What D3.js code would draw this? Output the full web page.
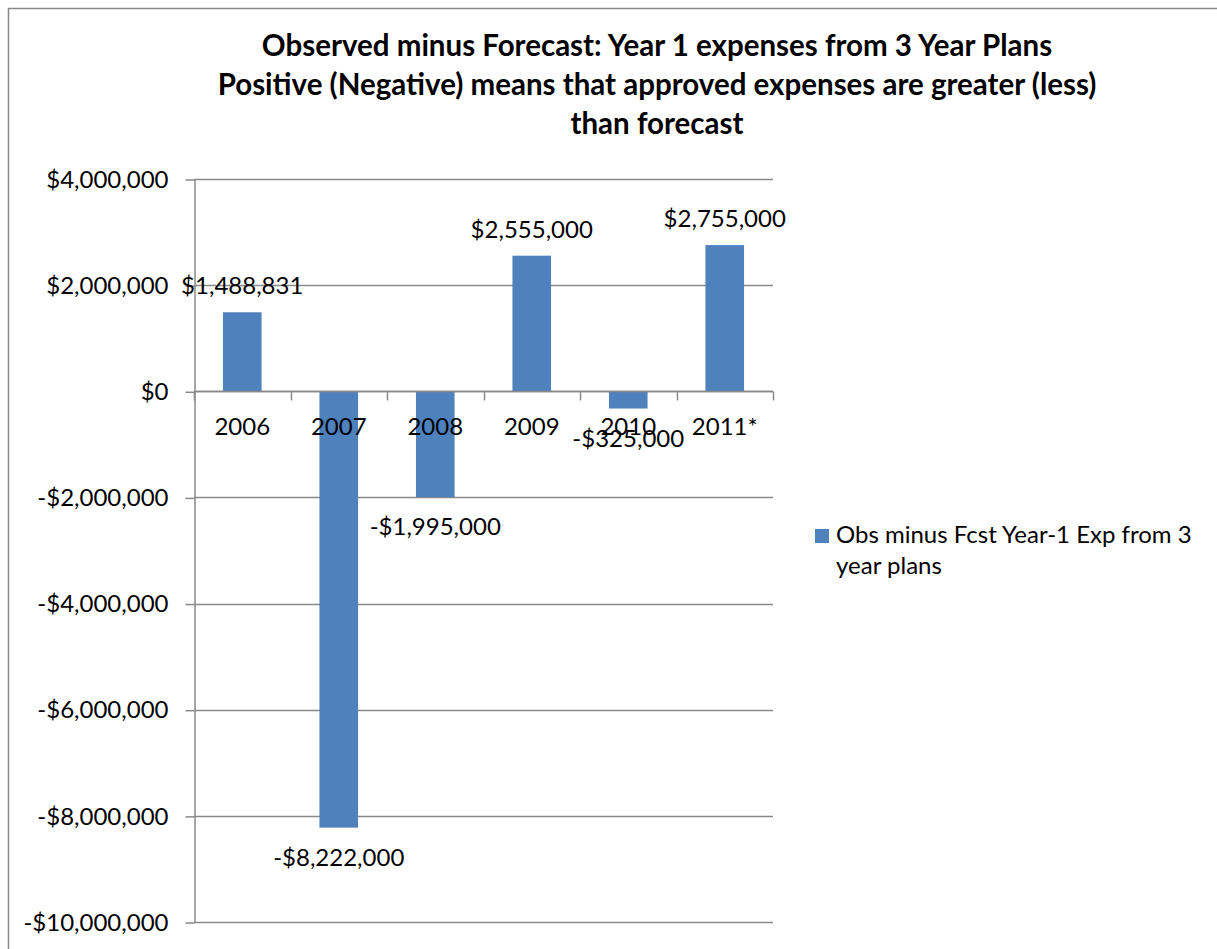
<!DOCTYPE html>
<html>
<head>
<meta charset="utf-8">
<script src="https://cdn.jsdelivr.net/npm/d3@7/dist/d3.min.js"></script>
<style>
  html, body { margin: 0; padding: 0; background: #fff; }
  svg { display: block; }
  text { font-family: Lato, "Open Sans", sans-serif; fill: #000; }
</style>
</head>
<body>
<svg id="chart" width="1217" height="949"></svg>
<script>
// Observed minus forecast, year-1 expenses from 3-year plans
const categories = ["2006", "2007", "2008", "2009", "2010", "2011*"];
const values = [1488831, -8222000, -1995000, 2555000, -325000, 2755000];
const valueLabels = ["$1,488,831", "-$8,222,000", "-$1,995,000", "$2,555,000", "-$325,000", "$2,755,000"];
const yTicks = [4000000, 2000000, 0, -2000000, -4000000, -6000000, -8000000, -10000000];
const titleLines = [
  "Observed minus Forecast: Year 1 expenses from 3 Year Plans",
  "Positive (Negative) means that approved expenses are greater (less)",
  "than forecast"
];
const legendLines = ["Obs minus Fcst Year-1 Exp from 3", "year plans"];

const barColor = "#4f81bd";
const lineColor = "#898989";
const labelSize = "24px";

const svg = d3.select("#chart");

// outer chart frame
svg.append("rect")
  .attr("x", 8.5).attr("y", 8.5)
  .attr("width", 1260).attr("height", 1000)
  .attr("fill", "none").attr("stroke", lineColor).attr("stroke-width", 1.5);

const plot = { left: 194, right: 773, top: 179, bottom: 922 };

const x = d3.scaleBand()
  .domain(categories)
  .range([plot.left, plot.right])
  .paddingInner(0.6).paddingOuter(0.3);

const y = d3.scaleLinear()
  .domain([-10000000, 4000000])
  .range([plot.bottom, plot.top]);

const fmtMoney = v => (v < 0 ? "-$" : "$") + d3.format(",")(Math.abs(v));

// horizontal gridlines
svg.append("g")
  .selectAll("line")
  .data(yTicks)
  .join("line")
  .attr("x1", plot.left).attr("x2", plot.right)
  .attr("y1", d => Math.round(y(d)) + 0.5).attr("y2", d => Math.round(y(d)) + 0.5)
  .attr("stroke", lineColor).attr("stroke-width", 1.5);

// y axis
const yAxis = d3.axisLeft(y)
  .tickValues(yTicks)
  .tickFormat(fmtMoney)
  .tickSizeInner(9).tickSizeOuter(0).tickPadding(17);
const gy = svg.append("g")
  .attr("transform", `translate(${plot.left + 0.5},0.5)`)
  .call(yAxis);
gy.select(".domain").attr("stroke", lineColor).attr("stroke-width", 1.5);
gy.selectAll(".tick line").attr("stroke", lineColor).attr("stroke-width", 1.5);
gy.selectAll(".tick text")
  .style("font-family", "Lato, sans-serif")
  .style("font-size", labelSize)
  .attr("fill", "#000");

// bars
svg.append("g")
  .selectAll("rect")
  .data(values)
  .join("rect")
  .attr("x", (d, i) => x(categories[i]))
  .attr("width", x.bandwidth())
  .attr("y", d => y(Math.max(0, d)))
  .attr("height", d => Math.abs(y(d) - y(0)))
  .attr("fill", barColor);

// x axis on the zero line, ticks at category boundaries
const zeroY = Math.round(y(0)) + 0.5;
const gx = svg.append("g");
gx.append("line")
  .attr("x1", plot.left).attr("x2", plot.right)
  .attr("y1", zeroY).attr("y2", zeroY)
  .attr("stroke", lineColor).attr("stroke-width", 1.5);
const boundaries = d3.range(categories.length + 1).map(i => plot.left + i * (plot.right - plot.left) / categories.length);
gx.selectAll("line.tk")
  .data(boundaries)
  .join("line")
  .attr("class", "tk")
  .attr("x1", d => Math.round(d) + 0.5).attr("x2", d => Math.round(d) + 0.5)
  .attr("y1", zeroY).attr("y2", zeroY + 9)
  .attr("stroke", lineColor).attr("stroke-width", 1.5);
gx.selectAll("text")
  .data(categories)
  .join("text")
  .attr("x", d => x(d) + x.bandwidth() / 2)
  .attr("y", zeroY + 43)
  .attr("text-anchor", "middle")
  .style("font-size", labelSize)
  .text(d => d);

// value labels
svg.append("g")
  .selectAll("text")
  .data(values)
  .join("text")
  .attr("x", (d, i) => x(categories[i]) + x.bandwidth() / 2)
  .attr("y", d => d >= 0 ? y(d) - 18 : y(d) + 38)
  .attr("text-anchor", "middle")
  .style("font-size", labelSize)
  .text((d, i) => valueLabels[i]);

// title
svg.append("g")
  .selectAll("text")
  .data(titleLines)
  .join("text")
  .attr("x", 657)
  .attr("y", (d, i) => 56 + i * 39)
  .attr("text-anchor", "middle")
  .style("font-size", "29.5px")
  .style("font-weight", "bold")
  .text(d => d);

// legend
const legend = svg.append("g");
legend.append("rect")
  .attr("x", 815).attr("y", 529)
  .attr("width", 14).attr("height", 14)
  .attr("fill", barColor);
legend.selectAll("text")
  .data(legendLines)
  .join("text")
  .attr("x", 836)
  .attr("y", (d, i) => 543 + i * 31)
  .style("font-size", labelSize)
  .text(d => d);
</script>
</body>
</html>
